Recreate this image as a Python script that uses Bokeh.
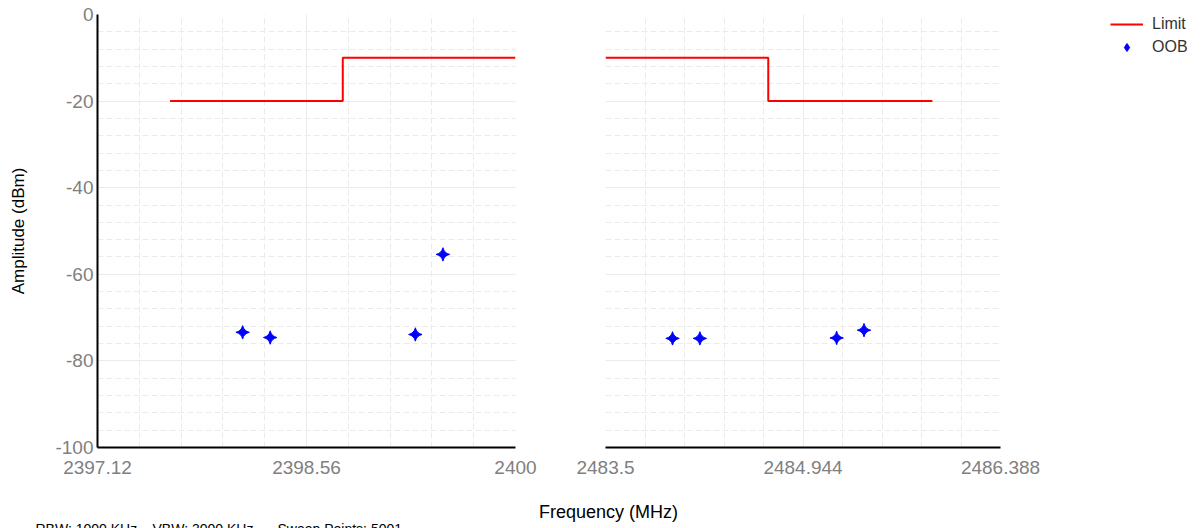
import numpy as np
from bokeh.plotting import figure
from bokeh.models import Range1d, FixedTicker, Label
from bokeh.layouts import row, column
from bokeh.embed import file_html
from bokeh.resources import INLINE

# ---------------- data ----------------
left_x_ticks = [2397.12, 2398.56, 2400.0]
left_x_labels = ["2397.12", "2398.56", "2400"]
right_x_ticks = [2483.5, 2484.944, 2486.388]
right_x_labels = ["2483.5", "2484.944", "2486.388"]
y_ticks = [0, -20, -40, -60, -80, -100]
y_labels = ["0", "-20", "-40", "-60", "-80", "-100"]

limit_left_x = [2397.62, 2398.81, 2398.81, 2400.0]
limit_left_y = [-20, -20, -10, -10]
limit_right_x = [2483.5, 2484.69, 2484.69, 2485.89]
limit_right_y = [-10, -10, -20, -20]

oob_left_x = [2398.12, 2398.31, 2399.31, 2399.50]
oob_left_y = [-73.4, -74.6, -73.9, -55.4]
oob_right_x = [2483.99, 2484.19, 2485.19, 2485.39]
oob_right_y = [-74.8, -74.8, -74.7, -72.9]

footer_texts = ["RBW: 1000 KHz", "VBW: 3000 KHz", "Sweep Points: 5001"]

FONT = "Liberation Sans"
TICK_COLOR = "#808080"
GRID_COLOR = "#ebebeb"
LIMIT_COLOR = "#ff0000"
OOB_COLOR = "#0000ff"


def minor_of(ticks, n=5):
    out = []
    for a, b in zip(ticks[:-1], ticks[1:]):
        for k in range(1, n):
            out.append(a + (b - a) * k / n)
    return out


y_minor = minor_of(sorted(y_ticks))


def base_fig(width, xr, xticks, xlabels, ml, mr):
    p = figure(width=width, height=492, x_range=Range1d(*xr), y_range=Range1d(-100, 0),
               output_backend="svg", toolbar_location=None,
               min_border_left=ml, min_border_right=mr, min_border_top=14, min_border_bottom=45)
    p.outline_line_color = None
    p.background_fill_color = "white"
    p.border_fill_color = "white"
    xt = FixedTicker(ticks=xticks, minor_ticks=minor_of(xticks))
    yt = FixedTicker(ticks=y_ticks, minor_ticks=y_minor)
    p.xaxis.ticker = xt
    p.yaxis.ticker = yt
    p.xgrid.ticker = xt
    p.ygrid.ticker = yt
    for g in (p.xgrid, p.ygrid):
        g.grid_line_color = GRID_COLOR
        g.grid_line_width = 1
        g.minor_grid_line_color = GRID_COLOR
        g.minor_grid_line_dash = "6 3"
        g.minor_grid_line_width = 1
    ax = p.xaxis[0]
    ax.major_label_overrides = dict(zip(xticks, xlabels))
    ax.axis_line_color = "black"
    ax.axis_line_width = 2
    ax.major_tick_out = 0
    ax.major_tick_in = 0
    ax.minor_tick_out = 0
    ax.minor_tick_in = 0
    ax.major_label_standoff = 13
    ax.major_label_text_font = FONT
    ax.major_label_text_font_size = "19px"
    ax.major_label_text_color = TICK_COLOR
    return p


# ---------------- left panel ----------------
p1 = base_fig(560, (2397.12, 2400.0), left_x_ticks, left_x_labels, 97, 45)
ya = p1.yaxis[0]
ya.major_label_overrides = dict(zip(y_ticks, y_labels))
ya.axis_line_color = "black"
ya.axis_line_width = 2
ya.major_tick_out = 0
ya.major_tick_in = 0
ya.minor_tick_out = 0
ya.minor_tick_in = 0
ya.major_label_standoff = 4
ya.major_label_text_font = FONT
ya.major_label_text_font_size = "19px"
ya.major_label_text_color = TICK_COLOR
ya.axis_label = "Amplitude (dBm)"
ya.axis_label_text_font = FONT
ya.axis_label_text_font_size = "17px"
ya.axis_label_text_font_style = "normal"
ya.axis_label_text_color = "black"
ya.axis_label_standoff = 24

p1.line(limit_left_x, limit_left_y, line_color=LIMIT_COLOR, line_width=2)
p1.scatter(oob_left_x, oob_left_y, marker="square_pin", angle=np.pi / 4, size=9.5,
           fill_color=OOB_COLOR, line_color=OOB_COLOR)

# ---------------- right panel ----------------
p2 = base_fig(550, (2483.5, 2486.388), right_x_ticks, right_x_labels, 45, 110)
p2.yaxis.visible = False

p2.line(limit_right_x, limit_right_y, line_color=LIMIT_COLOR, line_width=2)
p2.scatter(oob_right_x, oob_right_y, marker="square_pin", angle=np.pi / 4, size=9.5,
           fill_color=OOB_COLOR, line_color=OOB_COLOR)

# ---------------- legend panel (same series, ranges keep them off-canvas) ----------------
p4 = figure(width=93, height=492, output_backend="svg", toolbar_location=None,
            min_border=0, min_border_top=3, x_range=Range1d(0, 1), y_range=Range1d(0, 1))
p4.axis.visible = False
p4.grid.visible = False
p4.outline_line_color = None
p4.line(limit_right_x, limit_right_y, line_color=LIMIT_COLOR, line_width=2, legend_label="Limit")
p4.scatter(oob_right_x, oob_right_y, marker="diamond", size=12,
           fill_color=OOB_COLOR, line_color=OOB_COLOR, legend_label="OOB")
lg = p4.legend[0]
lg.location = "top_left"
lg.orientation = "vertical"
lg.padding = 0
lg.margin = 0
lg.spacing = 3
lg.glyph_width = 33
lg.glyph_height = 20
lg.label_height = 20
lg.label_standoff = 9
lg.label_text_font = FONT
lg.label_text_font_size = "16px"
lg.label_text_color = "#333333"
lg.border_line_color = None
lg.background_fill_alpha = 0

# ---------------- bottom texts ----------------
p3 = figure(width=1203, height=36, output_backend="svg", toolbar_location=None,
            min_border=0, x_range=Range1d(0, 1), y_range=Range1d(0, 1))
p3.axis.visible = False
p3.grid.visible = False
p3.outline_line_color = None
p3.add_layout(Label(x=608, y=17, x_units="screen", y_units="screen", text="Frequency (MHz)",
                    text_align="center", text_baseline="middle", text_font=FONT,
                    text_font_size="18px", text_color="black"))
for xs, t in zip([35, 152, 277], footer_texts):
    p3.add_layout(Label(x=xs, y=8, x_units="screen", y_units="screen", text=t,
                        text_align="left", text_baseline="top", text_font=FONT,
                        text_font_size="14px", text_color="black"))

layout = column(row(p1, p2, p4), p3)
open("out.html", "w").write(file_html(layout, INLINE))
